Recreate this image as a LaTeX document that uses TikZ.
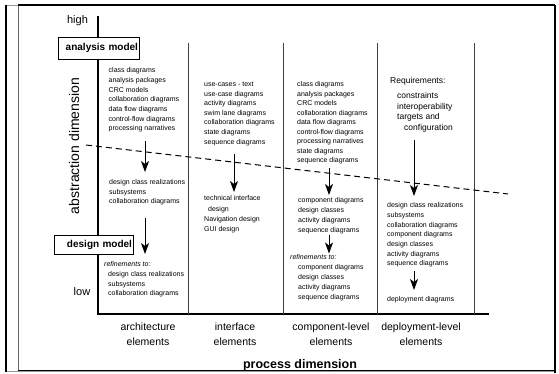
\documentclass[tikz,border=0pt]{standalone}
\usepackage{fontspec}
\setmainfont{Liberation Sans}
\usetikzlibrary{arrows.meta,positioning}

\begin{document}
\begin{tikzpicture}[
  x=1pt, y=-1pt,
  every node/.style={inner sep=0pt},
  lst/.style={anchor=north west, align=left, font=\fontsize{7}{#1}\selectfont},
  lst/.default=9.6,
  reqtext/.style={anchor=north west, align=left, font=\fontsize{8.5}{10.7}\selectfont},
  axislabel/.style={anchor=base, font=\fontsize{11}{13}\selectfont},
  collabel/.style={anchor=north, align=center, font=\fontsize{10.5}{15}\selectfont},
  modelbox/.style={draw, fill=white, line width=0.8pt, inner xsep=1pt, align=right,
                   font=\bfseries\fontsize{10}{12}\selectfont},
  colline/.style={black!75, line width=0.8pt},
  flow/.style={-{Stealth[length=11pt, width=8pt, inset=3pt]}, line width=0.8pt},
]
\useasboundingbox (0,0) rectangle (559,374);

%% ── Frame ─────────────────────────────────────────────────────────────────
\draw[black!40, line width=0.5pt] (5,5) rectangle (555,371);
\draw[line width=1.6pt] (6,5) -- (6,372);
\draw[black!60, line width=0.6pt] (18,5) -- (18,370);
\draw[line width=1.6pt] (18,5) -- (555,5);
\draw[line width=2.5pt] (555,5) -- (555,373);
\draw[line width=1.6pt] (18,370.5) -- (555,370.5);

%% ── Axes and columns ──────────────────────────────────────────────────────
\coordinate (top)    at (98,16);
\coordinate (origin) at (98,314);
\coordinate (corner) at (97.2,314);
\coordinate (right)  at (489,314);
\draw[line width=1.6pt] (top) -- (origin);
\draw[line width=2.5pt] (corner) -- (right);
\foreach \x in {188,283,377,474}
  \draw[colline] (\x,43) -- (\x,314);

% analysis / design boundary
\coordinate (dashL) at (86,145);
\coordinate (dashR) at (508,194);
\draw[line width=1pt, dash pattern=on 6pt off 4pt] (dashL) -- (dashR);

%% ── Abstraction axis labels ───────────────────────────────────────────────
\node[axislabel] (high) at (77.5,24) {high};
\node[axislabel] (low)  at (82,295)  {low};
\node[font=\fontsize{14}{16}\selectfont, rotate=90, anchor=base]
  (abstr) at (79,146) {abstraction dimension};
\node[modelbox, text width=79pt, minimum height=22pt]
  (analysis) at (98.5,48) {analysis model};
\node[modelbox, text width=77pt, minimum height=19pt]
  (design) at (93.5,244.5) {design model};

%% ── Architecture elements ─────────────────────────────────────────────────
\node[lst=9.65] (c1a) at (108.5,67.7)
  {class diagrams\\analysis packages\\CRC models\\collaboration diagrams\\
   data flow diagrams\\control-flow diagrams\\processing narratives};
\node[lst=9.5] (c1b) at (109,179.7)
  {design class realizations\\subsystems\\collaboration diagrams};
\node[lst=9.6] (c1c) at (104,261.7)
  {\itshape refinements to:\\\hspace*{4pt}design class realizations\\
   \hspace*{4pt}subsystems\\\hspace*{4pt}collaboration diagrams};

%% ── Interface elements ────────────────────────────────────────────────────
\node[lst=9.6] (c2a) at (204,81.7)
  {use-cases - text\\use-case diagrams\\activity diagrams\\swim lane diagrams\\
   collaboration diagrams\\state diagrams\\sequence diagrams};
\node[lst=10.3] (c2b) at (204,195.7)
  {technical interface\\\hspace*{4pt}design\\Navigation design\\GUI design};

%% ── Component-level elements ──────────────────────────────────────────────
\node[lst=9.5] (c3a) at (297,81.7)
  {class diagrams\\analysis packages\\CRC models\\collaboration diagrams\\
   data flow diagrams\\control-flow diagrams\\processing narratives\\
   state diagrams\\sequence diagrams};
\node[lst=10] (c3b) at (298,197.7)
  {component diagrams\\design classes\\activity diagrams\\sequence diagrams};
\node[lst=10] (c3c) at (290,254.7)
  {\itshape refinements to:\\\hspace*{8pt}component diagrams\\
   \hspace*{8pt}design classes\\\hspace*{8pt}activity diagrams\\
   \hspace*{8pt}sequence diagrams};

%% ── Deployment-level elements ─────────────────────────────────────────────
\node[reqtext] (req) at (390,77.1)
  {Requirements:\\[4.3pt]\hspace*{7pt}constraints\\\hspace*{7pt}interoperability\\
   \hspace*{7pt}targets and\\\hspace*{14pt}configuration};
\node[lst=9.67] (c4a) at (387,202.7)
  {design class realizations\\subsystems\\collaboration diagrams\\
   component diagrams\\design classes\\activity diagrams\\sequence diagrams};
\node[lst] (c4b) at (387,296.7) {deployment diagrams};

%% ── Refinement arrows ─────────────────────────────────────────────────────
\coordinate (ar1) at (145,0);
\coordinate (ar2) at (234,0);
\coordinate (ar3) at (329,0);
\coordinate (ar4) at (414,0);
\draw[flow, shorten <=8.8pt, shorten >=7.7pt]  (c1a.south -| ar1) -- (c1b.north -| ar1);
\draw[flow, shorten <=12.7pt, shorten >=7.7pt] (c1b.south -| ar1) -- (c1c.north -| ar1);
\draw[flow, shorten <=8.1pt, shorten >=3.7pt]  (c2a.south -| ar2) -- (c2b.north -| ar2);
\draw[flow, shorten <=3.7pt, shorten >=2.7pt]  (c3a.south -| ar3) -- (c3b.north -| ar3);
\draw[flow, shorten >=1.2pt]                   (c3b.south -| ar3) -- (c3c.north -| ar3);
\draw[flow, shorten <=7.9pt, shorten >=6.7pt]  (req.south -| ar4) -- (c4a.north -| ar4);
\draw[flow, shorten <=3.7pt, shorten >=6.7pt]  (c4a.south -| ar4) -- (c4b.north -| ar4);

%% ── Process axis labels ───────────────────────────────────────────────────
\node[collabel] (arch) at (148,322.5) {architecture\\elements};
\node[collabel] (intf) at (235,322.5) {interface\\elements};
\node[collabel] (comp) at (331,322.5) {component-level\\elements};
\node[collabel] (depl) at (421,322.5) {deployment-level\\elements};
\node[font=\bfseries\fontsize{12.5}{14}\selectfont, anchor=base]
  (proc) at (300,368) {process dimension};

\end{tikzpicture}
\end{document}
